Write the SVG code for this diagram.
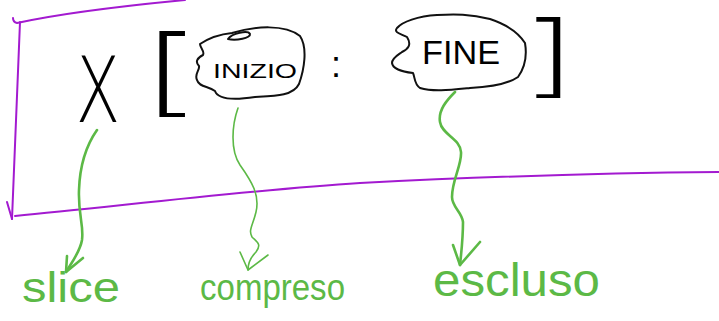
<svg xmlns="http://www.w3.org/2000/svg" width="719" height="321" viewBox="0 0 719 321">
<style>
.frame{fill:none;stroke:#a31ad0;stroke-width:2;stroke-linecap:round;stroke-linejoin:round}
.cloud{fill:none;stroke:#111;stroke-width:2;stroke-linecap:round;stroke-linejoin:round}
.ink{font-family:"DejaVu Sans","Liberation Sans",sans-serif;font-weight:200;fill:#000}
.lbl{font-family:"Liberation Sans","DejaVu Sans",sans-serif;fill:#000}
.g{fill:#5cb946;font-family:"Liberation Sans","DejaVu Sans",sans-serif}
.arr{fill:none;stroke:#5cb946;stroke-width:2.6;stroke-linecap:round;stroke-linejoin:round}
.arr.thin{stroke-width:1.6}
</style>
<rect width="719" height="321" fill="#fff"/>
<g id="frame">
<path class="frame" d="M13,18 Q13,22 17,23 C40,18 80,10 185,0"/>
<path class="frame" d="M20,22 L12,219"/>
<path class="frame" d="M7,202 L12,219"/>
<path class="frame" d="M15,216 C120,206 250,190 360,183 C480,177 600,173 719,172"/>
</g>
<g id="array-x">
<text class="ink" x="0" y="0" font-size="90" text-anchor="middle" transform="translate(98,122) scale(0.72,1)">X</text>
</g>
<g id="open-bracket">
<text class="ink" x="0" y="0" font-size="96" text-anchor="middle" transform="translate(172,104) scale(1.6,1)">[</text>
</g>
<g id="start">
<path class="cloud" d="M200,44 C212,36 222,34 232,33 C255,26 285,24 300,36 C308,48 304,70 299,84 C293,96 275,96 255,97 C235,100 218,100 215,91 C208,86 199,87 197,80 C194,74 200,70 199,66 C195,62 197,58 203,55 C205,51 200,48 200,44 Z"/>
<path class="cloud" stroke-width="1.5" d="M228,39 C232,33 248,30 250,34 C251,38 236,41 228,39"/>
<text class="lbl" x="255" y="78" font-size="20" text-anchor="middle" textLength="84" lengthAdjust="spacingAndGlyphs">INIZIO</text>
</g>
<g id="colon">
<text class="lbl" x="336" y="77" font-size="36" text-anchor="middle">:</text>
</g>
<g id="end">
<path class="cloud" d="M397,28 C402,22 418,16 437,15 C455,14 470,14 490,19 C505,24 518,32 525,43 C527,55 526,66 518,77 C508,84 490,87 470,88 C450,90 433,92 420,88 C414,84 415,77 413,73 C404,72 393,70 392,63 C392,58 398,55 402,52 C408,49 412,45 407,37 C402,34 393,33 397,28 Z"/>
<text class="lbl" x="461" y="64" font-size="33" text-anchor="middle" textLength="78" lengthAdjust="spacingAndGlyphs">FINE</text>
</g>
<g id="close-bracket">
<text class="ink" x="0" y="0" font-size="90" text-anchor="middle" transform="translate(548,86) scale(1.6,1)">]</text>
</g>
<g id="connectors">
<path class="arr" d="M97,130 C90,140 80,160 79,190 C78,215 84,225 82,240 C80,252 72,262 66,272"/>
<path class="arr" d="M67,256 L66,272 L83,258"/>
<path class="arr thin" d="M238,108 C232,125 230,150 240,165 C252,182 260,195 256,212 C253,225 248,230 252,237 C257,242 262,244 256,252 C250,258 248,264 248,270"/>
<path class="arr thin" d="M240,252 L248,270 L268,255"/>
<path class="arr" d="M455,92 C447,100 438,110 440,122 C442,135 460,138 461,152 C462,165 452,180 452,197 C452,207 462,212 463,222 C463,240 461,255 460,265"/>
<path class="arr" d="M453,245 L460,265 L480,242"/>
</g>
<g id="label-slice">
<text class="g" x="22" y="302" font-size="42" textLength="98" lengthAdjust="spacingAndGlyphs">slice</text>
</g>
<g id="label-compreso">
<text class="g" x="200" y="300" font-size="36" textLength="145" lengthAdjust="spacingAndGlyphs">compreso</text>
</g>
<g id="label-escluso">
<text class="g" x="433" y="296" font-size="46" textLength="167" lengthAdjust="spacingAndGlyphs">escluso</text>
</g>
</svg>
